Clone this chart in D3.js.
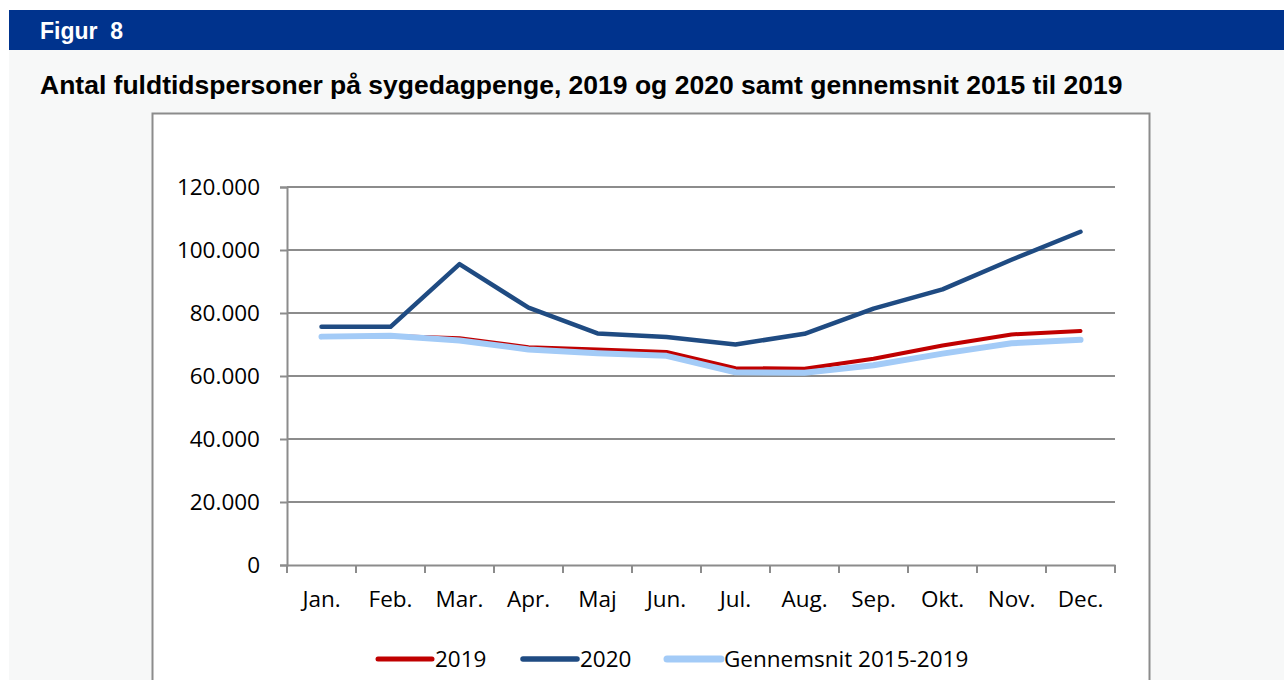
<!DOCTYPE html>
<html lang="da">
<head>
    <meta charset="UTF-8">
    <script src="https://cdnjs.cloudflare.com/ajax/libs/d3/7.8.5/d3.min.js"></script>
    <title>Figur 8</title>
    <style>
        body {
            margin: 0;
            background: #fff;
        }
        svg {
            display: block;
        }
        .tick-label {
            font-family: 'Open Sans', sans-serif;
            font-size: 22.5px;
            fill: #000;
        }
    </style>
</head>
<body>
    <div class="fig"></div>

    <script>
        // Data
        const months = ["Jan.", "Feb.", "Mar.", "Apr.", "Maj", "Jun.", "Jul.", "Aug.", "Sep.", "Okt.", "Nov.", "Dec."];
        const values2019 = [72400, 72700, 72000, 69100, 68400, 67600, 62500, 62300, 65500, 69700, 73200, 74300];
        const values2020 = [75600, 75600, 95500, 81700, 73500, 72400, 70000, 73400, 81400, 87500, 96900, 105800];
        const valuesAvg = [72500, 72800, 71300, 68400, 67200, 66400, 61200, 61000, 63400, 67100, 70400, 71500];
        const yTicks = [0, 20000, 40000, 60000, 80000, 100000, 120000];

        const series = [
            { name: "2019", values: values2019, color: "#c00000", width: 4 },
            { name: "2020", values: values2020, color: "#1f4b82", width: 4.5 },
            { name: "Gennemsnit 2015-2019", values: valuesAvg, color: "#a3cbf7", width: 6 }
        ];

        const width = 1284, height = 680;
        const plot = { left: 287, right: 1115, top: 187, bottom: 565 };

        const svg = d3.select(".fig").append("svg")
            .attr("width", width)
            .attr("height", height);

        // page background + header
        svg.append("rect").attr("x", 9).attr("y", 50).attr("width", width - 9).attr("height", height - 50)
            .attr("fill", "#f7f8f8");
        svg.append("rect").attr("x", 9).attr("y", 10).attr("width", width - 9).attr("height", 40)
            .attr("fill", "#00338d");
        svg.append("text")
            .attr("x", 40).attr("y", 39)
            .attr("fill", "#fff")
            .style("font-family", "'Liberation Sans', Arial, sans-serif")
            .style("font-weight", "bold")
            .style("font-size", "23px")
            .style("white-space", "pre")
            .text("Figur  8");
        svg.append("text")
            .attr("x", 40).attr("y", 94)
            .attr("fill", "#000")
            .style("font-family", "'Liberation Sans', Arial, sans-serif")
            .style("font-weight", "bold")
            .style("font-size", "26.5px")
            .text("Antal fuldtidspersoner på sygedagpenge, 2019 og 2020 samt gennemsnit 2015 til 2019");

        // chart box
        svg.append("rect")
            .attr("x", 152.5).attr("y", 113.5)
            .attr("width", 997).attr("height", 600)
            .attr("fill", "#fff")
            .attr("stroke", "#8c8c8c")
            .attr("stroke-width", 2);

        // scales
        const x = d3.scaleBand().domain(months).range([plot.left, plot.right]);
        const y = d3.scaleLinear().domain([0, 120000]).range([plot.bottom, plot.top]);
        const cx = m => x(m) + x.bandwidth() / 2;
        const fmt = v => d3.format(",")(v).replace(/,/g, ".");

        // gridlines
        svg.append("g").selectAll("line")
            .data(yTicks.filter(d => d > 0))
            .enter().append("line")
            .attr("x1", plot.left).attr("x2", plot.right)
            .attr("y1", d => y(d)).attr("y2", d => y(d))
            .attr("stroke", "#8c8c8c").attr("stroke-width", 2);

        // y axis
        const yAxis = svg.append("g")
            .attr("transform", `translate(${plot.left},0)`)
            .call(d3.axisLeft(y).tickValues(yTicks).tickSize(7).tickPadding(20).tickFormat(fmt));
        yAxis.select(".domain").attr("stroke", "#8c8c8c").attr("stroke-width", 2);
        yAxis.selectAll(".tick line").attr("stroke", "#8c8c8c").attr("stroke-width", 2);
        yAxis.selectAll(".tick text").attr("class", "tick-label").attr("fill", "#000");

        // x axis
        const xAxis = svg.append("g")
            .attr("transform", `translate(0,${plot.bottom})`)
            .call(d3.axisBottom(x).tickSize(0).tickPadding(26));
        xAxis.select(".domain").attr("stroke", "#8c8c8c").attr("stroke-width", 2);
        xAxis.selectAll(".tick text").attr("class", "tick-label").attr("fill", "#000");
        xAxis.selectAll(".edge")
            .data(months.map(m => x(m)).concat([plot.right]))
            .enter().append("line")
            .attr("class", "edge")
            .attr("x1", d => d).attr("x2", d => d)
            .attr("y1", 0).attr("y2", 8)
            .attr("stroke", "#8c8c8c").attr("stroke-width", 2);

        // lines
        const line = d3.line()
            .x((d, i) => cx(months[i]))
            .y(d => y(d));

        svg.append("g").selectAll("path")
            .data(series)
            .enter().append("path")
            .attr("d", d => line(d.values))
            .attr("fill", "none")
            .attr("stroke", d => d.color)
            .attr("stroke-width", d => d.width)
            .attr("stroke-linejoin", "round")
            .attr("stroke-linecap", "round");

        // legend
        const legendX = [378, 523, 667];
        const legend = svg.append("g").selectAll("g")
            .data(series)
            .enter().append("g")
            .attr("transform", (d, i) => `translate(${legendX[i]},659)`);
        legend.append("line")
            .attr("x1", 0).attr("x2", 54)
            .attr("stroke", d => d.color)
            .attr("stroke-width", d => d.width + 1)
            .attr("stroke-linecap", "round");
        legend.append("text")
            .attr("class", "tick-label")
            .attr("x", 57).attr("y", 8)
            .text(d => d.name);
    </script>
</body>
</html>
